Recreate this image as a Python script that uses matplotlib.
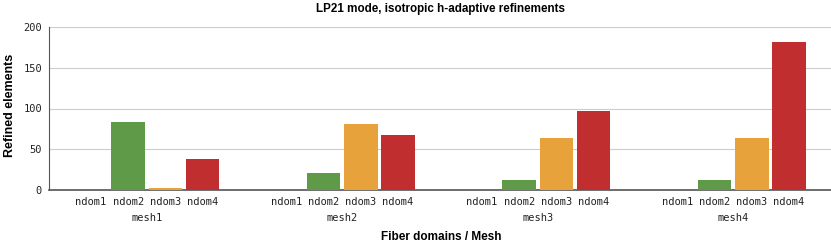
import matplotlib.pyplot as plt
import matplotlib.transforms as mtransforms
import numpy as np

meshes = ["mesh1", "mesh2", "mesh3", "mesh4"]
domains = ["ndom1", "ndom2", "ndom3", "ndom4"]
values = {
    "ndom1": [0, 0, 0, 0],
    "ndom2": [83, 21, 12, 12],
    "ndom3": [2, 81, 64, 64],
    "ndom4": [38, 67, 97, 181],
}
colors = {"ndom1": "#3a6fb0", "ndom2": "#5e9a48", "ndom3": "#e8a23b", "ndom4": "#c02e30"}

fig = plt.figure(figsize=(8.31, 2.44), dpi=100)
ax = fig.add_axes([49 / 831, 54 / 244, 782 / 831, 163 / 244])

x = np.arange(len(meshes))
width = 0.172
step = 0.19
offsets = (np.arange(len(domains)) - 1.5) * step

tick_pos = []
tick_lab = []
for i, d in enumerate(domains):
    ax.bar(x + offsets[i], values[d], width, color=colors[d], linewidth=0, zorder=3)
    tick_pos += list(x + offsets[i])
    tick_lab += [d] * len(meshes)

ax.set_xlim(-0.5, len(meshes) - 0.5)
ax.set_ylim(0, 200)
ax.set_yticks([0, 50, 100, 150, 200])
ax.set_yticklabels(["0", "50", "100", "150", "200"], family="DejaVu Sans Mono", fontsize=7.5, color="#222222")
ax.set_xticks(tick_pos)
ax.set_xticklabels(tick_lab, family="DejaVu Sans Mono", fontsize=7.5, color="#222222")
ax.tick_params(length=0, pad=5)
ax.grid(axis="y", color="#cccccc", linewidth=0.8, zorder=0)

trans = mtransforms.blended_transform_factory(ax.transData, ax.transAxes)
for i, m in enumerate(meshes):
    ax.text(x[i], -0.17, m, transform=trans, ha="center", va="center",
            family="DejaVu Sans Mono", fontsize=7.5, color="#222222")

for s in ["top", "right"]:
    ax.spines[s].set_visible(False)
ax.spines["left"].set_color("#555555")
ax.spines["bottom"].set_color("#555555")
ax.spines["bottom"].set_linewidth(1.2)

fig.text(10 / 831, 1 - 105 / 244, "Refined elements", ha="center", va="center", rotation=90,
         family="Liberation Sans", fontweight="bold", fontsize=9)
fig.text(441 / 831, 1 - 237 / 244, "Fiber domains / Mesh", ha="center", va="center",
         family="Liberation Sans", fontweight="bold", fontsize=8.5)
fig.text(441 / 831, 1 - 9 / 244, "LP21 mode, isotropic h-adaptive refinements", ha="center", va="center",
         family="Liberation Sans", fontweight="bold", fontsize=8.4)

fig.savefig("out.png", dpi=100)
